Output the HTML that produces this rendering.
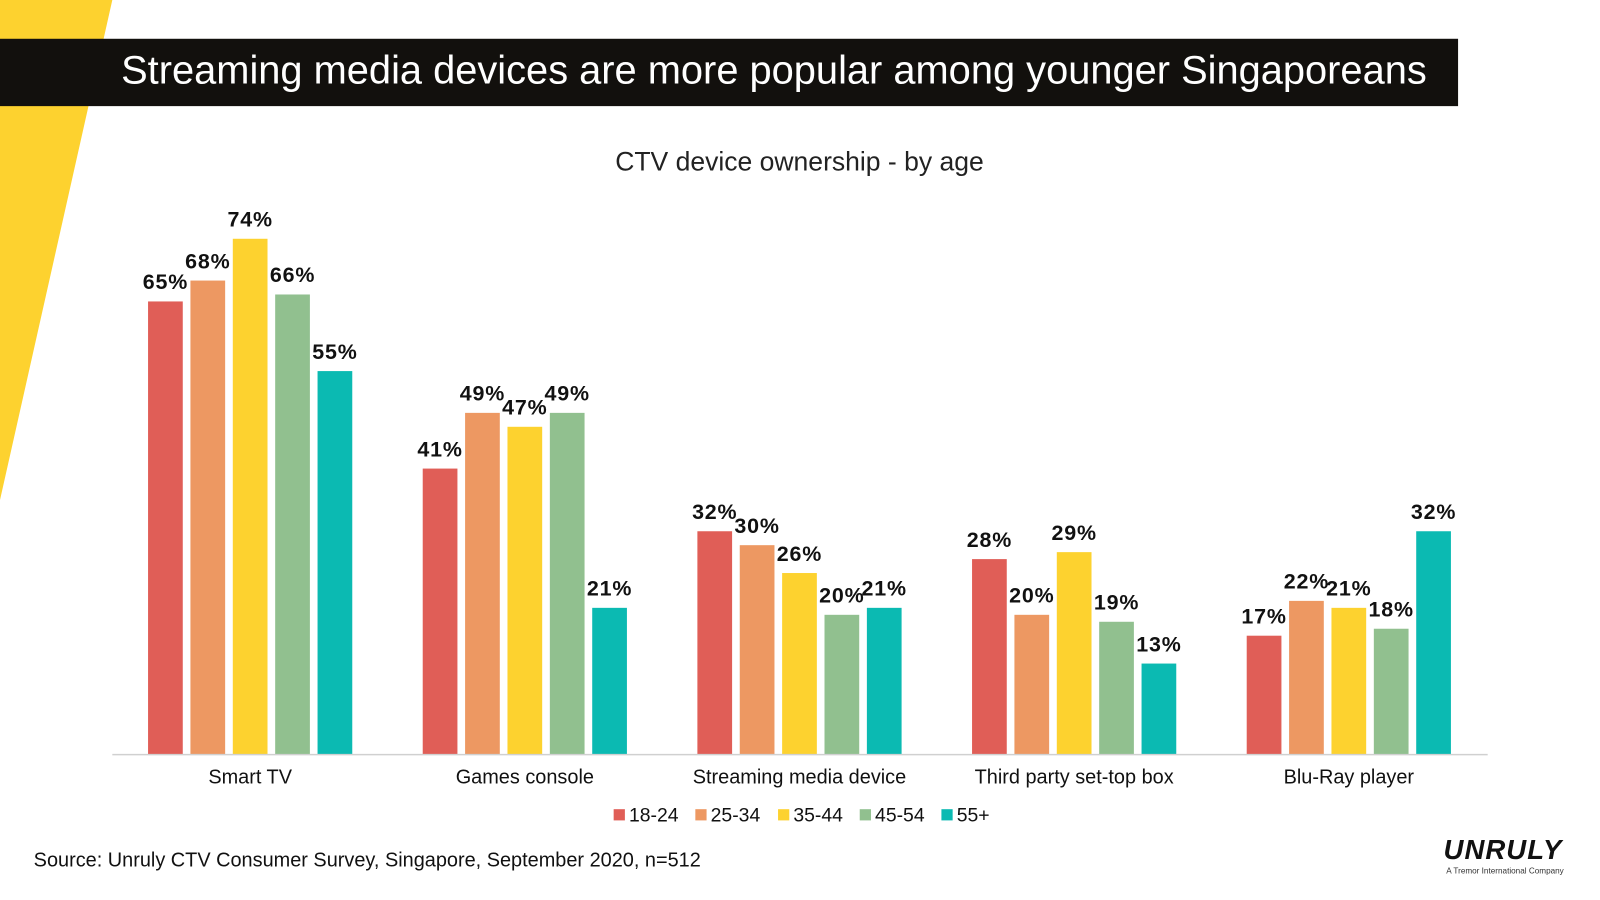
<!DOCTYPE html>
<html><head><meta charset="utf-8"><style>
html,body{margin:0;padding:0;background:#fff;}
body{width:1600px;height:900px;position:relative;overflow:hidden;font-family:"Liberation Sans",sans-serif;}
</style></head><body>
<svg width="1600" height="900" viewBox="0 0 1567 882" preserveAspectRatio="none" xmlns="http://www.w3.org/2000/svg" style="position:absolute;left:0;top:0" font-family="Liberation Sans, sans-serif">
<polygon points="0,0 110,0 0,490" fill="#fdd22f"/>
<rect x="0" y="38" width="1428" height="66" fill="#12100d"/>
<text x="758" y="82" text-anchor="middle" font-size="39" fill="#fff">Streaming media devices are more popular among younger Singaporeans</text>
<text x="783" y="167" text-anchor="middle" font-size="26" fill="#222">CTV device ownership - by age</text>
<g id="chart"></g>
<line x1="110" y1="739.5" x2="1457" y2="739.5" stroke="#d0d0d0" stroke-width="1.5"/>
<g id="legend"></g>
<text x="33" y="849" font-size="19.5" fill="#111">Source: Unruly CTV Consumer Survey, Singapore, September 2020, n=512</text>
<text x="1472" y="842" text-anchor="middle" font-size="27" font-weight="bold" font-style="italic" fill="#111" letter-spacing="1">UNRULY</text>
<text x="1474" y="856" text-anchor="middle" font-size="8" fill="#333">A Tremor International Company</text>
</svg>
<script>
const categories=["Smart TV","Games console","Streaming media device","Third party set-top box","Blu-Ray player"];
const seriesNames=["18-24","25-34","35-44","45-54","55+"];
const s1824=[65,41,32,28,17];
const s2534=[68,49,30,20,22];
const s3544=[74,47,26,29,21];
const s4554=[66,49,20,19,18];
const s55=[55,21,21,13,32];
const series=[s1824,s2534,s3544,s4554,s55];
const colors=["#e05e57","#ed9862","#fdd22f","#91c08f","#0bbab2"];
const NS="http://www.w3.org/2000/svg";
const base=739, pxPer=505/74;
function yScale(v){return base-v*pxPer;}
function xCenter(i){return 245+i*269;}
const bw=34, step=41.5;
const g=document.getElementById('chart');
categories.forEach((c,i)=>{
  series.forEach((s,j)=>{
    const x=xCenter(i)+(j-2)*step-bw/2;
    const r=document.createElementNS(NS,'rect');
    r.setAttribute('x',x);r.setAttribute('y',yScale(s[i]));
    r.setAttribute('width',bw);r.setAttribute('height',base-yScale(s[i]));
    r.setAttribute('fill',colors[j]);
    
    
    g.appendChild(r);
    const t=document.createElementNS(NS,'text');
    t.setAttribute('x',x+bw/2);t.setAttribute('y',yScale(s[i])-12);
    t.setAttribute('text-anchor','middle');t.setAttribute('font-size','21');
    t.setAttribute('font-weight','bold');t.setAttribute('fill','#111');t.setAttribute('letter-spacing','0.8');
    t.textContent=s[i]+'%';
    
    
    g.appendChild(t);
  });
  const t=document.createElementNS(NS,'text');
  t.setAttribute('x',xCenter(i));t.setAttribute('y',768);
  t.setAttribute('text-anchor','middle');t.setAttribute('font-size','19.5');t.setAttribute('fill','#111');
  t.textContent=c;
  
  
  g.appendChild(t);
});
const lg=document.getElementById('legend');
const lx=[601,681,762,842,922];
seriesNames.forEach((n,j)=>{
  const r=document.createElementNS(NS,'rect');
  r.setAttribute('x',lx[j]);r.setAttribute('y',793);r.setAttribute('width',11);r.setAttribute('height',11);
  r.setAttribute('fill',colors[j]);
  
  
  lg.appendChild(r);
  const t=document.createElementNS(NS,'text');
  t.setAttribute('x',lx[j]+15);t.setAttribute('y',805);t.setAttribute('font-size','19');t.setAttribute('fill','#111');
  t.textContent=n;
  
  
  lg.appendChild(t);
});
</script>
</body></html>
